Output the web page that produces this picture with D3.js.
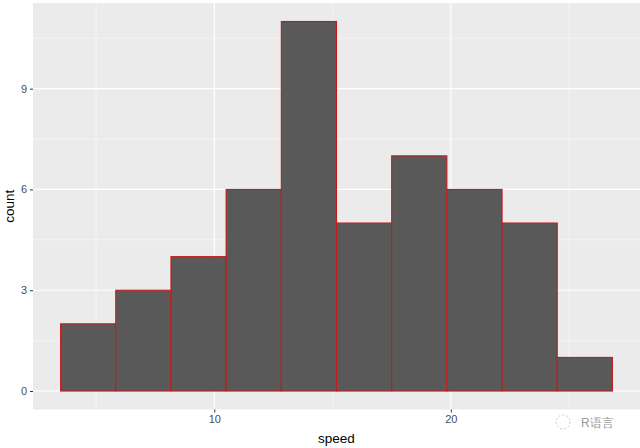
<!DOCTYPE html>
<html>
<head>
  <meta charset="UTF-8">
  <script src="https://d3js.org/d3.v7.min.js"></script>
  <style>
    body { margin: 0; background: #fff; }
    text { font-family: "Liberation Sans", Arial, sans-serif; }
  </style>
</head>
<body>
  <svg id="chart" width="640" height="448"></svg>
  <script>
    // histogram bins (speed) and counts
    const binEdges = [3.5, 5.833, 8.167, 10.5, 12.833, 15.167, 17.5, 19.833, 22.167, 24.5, 26.833];
    const counts = [2, 3, 4, 6, 11, 5, 7, 6, 5, 1];
    const xTicks = [10, 20];
    const xMinor = [5, 15, 25];
    const yTicks = [0, 3, 6, 9];
    const yMinor = [1.5, 4.5, 7.5, 10.5];

    const bins = counts.map((c, i) => ({ x0: binEdges[i], x1: binEdges[i + 1], count: c }));

    const svg = d3.select("svg#chart");
    const panel = { left: 33, right: 640, top: 3, bottom: 409.5 };

    // ggplot-like expansion of 5%
    const x = d3.scaleLinear().domain([2.3333, 28]).range([panel.left, panel.right]);
    const y = d3.scaleLinear().domain([-0.55, 11.55]).range([panel.bottom, panel.top]);

    // panel background
    svg.append("rect")
      .attr("x", panel.left).attr("y", panel.top)
      .attr("width", panel.right - panel.left).attr("height", panel.bottom - panel.top)
      .attr("fill", "#ebebeb");

    // minor gridlines
    const grid = svg.append("g");
    grid.selectAll("line.ymin").data(yMinor).join("line").attr("class", "ymin")
      .attr("x1", panel.left).attr("x2", panel.right)
      .attr("y1", d => y(d)).attr("y2", d => y(d))
      .attr("stroke", "#fafafa").attr("stroke-width", 0.6);
    grid.selectAll("line.xmin").data(xMinor).join("line").attr("class", "xmin")
      .attr("y1", panel.top).attr("y2", panel.bottom)
      .attr("x1", d => x(d)).attr("x2", d => x(d))
      .attr("stroke", "#fafafa").attr("stroke-width", 0.6);

    // major gridlines
    grid.selectAll("line.ymaj").data(yTicks).join("line").attr("class", "ymaj")
      .attr("x1", panel.left).attr("x2", panel.right)
      .attr("y1", d => y(d)).attr("y2", d => y(d))
      .attr("stroke", "#ffffff").attr("stroke-width", 1.2);
    grid.selectAll("line.xmaj").data(xTicks).join("line").attr("class", "xmaj")
      .attr("y1", panel.top).attr("y2", panel.bottom)
      .attr("x1", d => x(d)).attr("x2", d => x(d))
      .attr("stroke", "#ffffff").attr("stroke-width", 1.2);

    // bars
    svg.append("g").selectAll("rect.bar").data(bins).join("rect").attr("class", "bar")
      .attr("x", d => x(d.x0))
      .attr("y", d => y(d.count))
      .attr("width", d => x(d.x1) - x(d.x0))
      .attr("height", d => y(0) - y(d.count))
      .attr("fill", "#595959")
      .attr("stroke", "#c41a1a")
      .attr("stroke-width", 1.1);

    // axes
    const leftAxis = d3.axisLeft(y).tickValues(yTicks).tickSize(3).tickPadding(3).tickFormat(d3.format("d"));
    const gy = svg.append("g").attr("transform", `translate(${panel.left},0)`).call(leftAxis);
    gy.select(".domain").remove();
    gy.selectAll("line").attr("stroke", "#333333");
    gy.selectAll("text").attr("fill", "#4d4d4d").attr("font-size", 11);

    const bottomAxis = d3.axisBottom(x).tickValues(xTicks).tickSize(3).tickPadding(3).tickFormat(d3.format("d"));
    const gx = svg.append("g").attr("transform", `translate(0,${panel.bottom})`).call(bottomAxis);
    gx.select(".domain").remove();
    gx.selectAll("line").attr("stroke", "#333333");
    gx.selectAll("text").attr("fill", "#4d4d4d").attr("font-size", 11);

    // axis titles
    svg.append("text")
      .attr("x", (panel.left + panel.right) / 2).attr("y", 443)
      .attr("text-anchor", "middle").attr("font-size", 13.5).attr("fill", "#000")
      .text("speed");
    svg.append("text")
      .attr("transform", `translate(14,${(panel.top + panel.bottom) / 2}) rotate(-90)`)
      .attr("text-anchor", "middle").attr("font-size", 13.5).attr("fill", "#000")
      .text("count");

    // watermark
    svg.append("text")
      .attr("x", 581).attr("y", 427)
      .attr("font-size", 12).attr("fill", "#9a9a9a")
      .attr("font-family", "'Noto Sans CJK SC', sans-serif")
      .text("R语言");
    svg.append("circle").attr("cx", 563).attr("cy", 422).attr("r", 7)
      .attr("fill", "none").attr("stroke", "#c8c8c8").attr("stroke-dasharray", "2,2");
  </script>
</body>
</html>
